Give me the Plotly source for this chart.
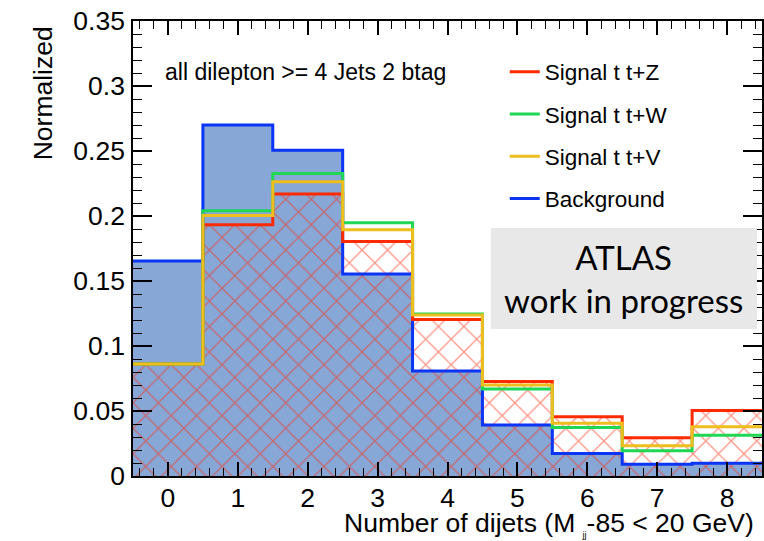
import plotly.graph_objects as go

# Number-of-dijets histogram, normalized, dilepton channel (>= 4 jets, 2 b-tags)
bins = [0, 1, 2, 3, 4, 5, 6, 7, 8]
background = [0.1654, 0.2700, 0.2505, 0.1554, 0.0808, 0.0392, 0.0174, 0.0090, 0.0098]
signal_ttz = [0.0862, 0.1933, 0.2169, 0.1803, 0.1203, 0.0726, 0.0456, 0.0295, 0.0503]
signal_ttw = [0.0862, 0.2040, 0.2326, 0.1949, 0.1246, 0.0669, 0.0374, 0.0195, 0.0313]
signal_ttv = [0.0862, 0.2003, 0.2264, 0.1895, 0.1238, 0.0700, 0.0405, 0.0233, 0.0379]

y_ticks = [0, 0.05, 0.1, 0.15, 0.2, 0.25, 0.3, 0.35]
y_tick_labels = ["0", "0.05", "0.1", "0.15", "0.2", "0.25", "0.3", "0.35"]

RED = "#ff2a00"
GREEN = "#1fd655"
YELLOW = "#eebd1e"
BLUE = "#0a35f5"
BG_FILL = "#87a7d7"
SANS = "Liberation Sans, Arial, Helvetica, sans-serif"


def step_xy(values):
    """Bin edges and values for a ROOT-style step outline."""
    edges = [b - 0.5 for b in bins] + [bins[-1] + 0.5]
    return edges, list(values) + [values[-1]]


fig = go.Figure()

# filled background histogram
fig.add_trace(go.Bar(
    x=bins, y=background, width=1.0,
    marker=dict(color=BG_FILL, line=dict(width=0)),
    showlegend=False, hoverinfo="skip",
))

# cross-hatched tt+Z histogram
fig.add_trace(go.Bar(
    x=bins, y=signal_ttz, width=1.0,
    marker=dict(
        color="rgba(0,0,0,0)",
        line=dict(width=0),
        pattern=dict(shape="x", fgcolor="#ff2a0a",
                     bgcolor="rgba(0,0,0,0)", size=18, solidity=0.14,
                     fillmode="overlay"),
    ),
    showlegend=False, hoverinfo="skip",
))

outlines = [
    ("Background", background, BLUE, 4),
    ("Signal t t+Z", signal_ttz, RED, 1),
    ("Signal t t+W", signal_ttw, GREEN, 2),
    ("Signal t t+V", signal_ttv, YELLOW, 3),
]
for name, vals, color, rank in outlines:
    ex, ey = step_xy(vals)
    fig.add_trace(go.Scatter(
        x=ex, y=ey, mode="lines", name=name,
        line=dict(color=color, width=3, shape="hv"),
        legendrank=rank, legendgroup=name,
    ))

axis_common = dict(
    showline=True, linecolor="black", linewidth=1.5,
    mirror="allticks", ticks="inside", tickcolor="black", tickwidth=1.5,
    showgrid=False, zeroline=False,
    tickfont=dict(family=SANS, size=26.5, color="black"),
)

fig.update_xaxes(
    range=[-0.5, 8.5], tickvals=bins, ticklen=14,
    minor=dict(ticks="inside", dtick=0.2, ticklen=8, tickcolor="black", tickwidth=1.2),
    ticklabelstandoff=-3,
    **axis_common,
)
fig.update_yaxes(
    range=[0, 0.35], tickvals=y_ticks, ticktext=y_tick_labels, ticklen=19,
    minor=dict(ticks="inside", dtick=0.01, ticklen=9, tickcolor="black", tickwidth=1.2),
    ticklabelstandoff=1,
    **axis_common,
)

fig.update_layout(
    width=764, height=541,
    margin=dict(l=133, r=0, t=21, b=65),
    paper_bgcolor="white", plot_bgcolor="white",
    barmode="overlay", bargap=0,
    showlegend=True,
    legend=dict(
        x=0.591, y=0.935, xanchor="left", yanchor="top",
        font=dict(family=SANS, size=22.5, color="black"),
        bgcolor="rgba(0,0,0,0)", borderwidth=0,
        tracegroupgap=10, itemwidth=30,
    ),
    shapes=[dict(
        type="rect", xref="paper", yref="paper",
        x0=0.569, x1=0.992, y0=0.323, y1=0.545,
        fillcolor="#e8e8e8", line=dict(width=0), layer="above",
    )],
    annotations=[
        dict(text="ATLAS<br>work in progress", xref="paper", yref="paper",
             x=0.780, y=0.434, xanchor="center", yanchor="middle",
             showarrow=False, align="center",
             font=dict(family="Lato, Open Sans, sans-serif", size=33, color="black")),
        dict(text="all dilepton &gt;= 4 Jets 2 btag", xref="paper", yref="paper",
             x=(163 - 133) / 631, y=(476 - 72) / 455, xanchor="left", yanchor="middle",
             showarrow=False,
             font=dict(family=SANS, size=23, color="black")),
        dict(text="Normalized", xref="paper", yref="paper",
             x=(43 - 133) / 631, y=(476 - 24) / 455, xanchor="center", yanchor="top",
             textangle=-90, showarrow=False,
             font=dict(family=SANS, size=26.5, color="black")),
        dict(text="Number of dijets (M <sub><span style='font-size:9px;color:black'>jj</span></sub>-85 &lt; 20 GeV)",
             xref="paper", yref="paper",
             x=(758 - 133) / 631, y=(476 - 506) / 455, xanchor="right", yanchor="top",
             showarrow=False,
             font=dict(family=SANS, size=26.5, color="black")),
    ],
)

fig.write_html("out.html")
